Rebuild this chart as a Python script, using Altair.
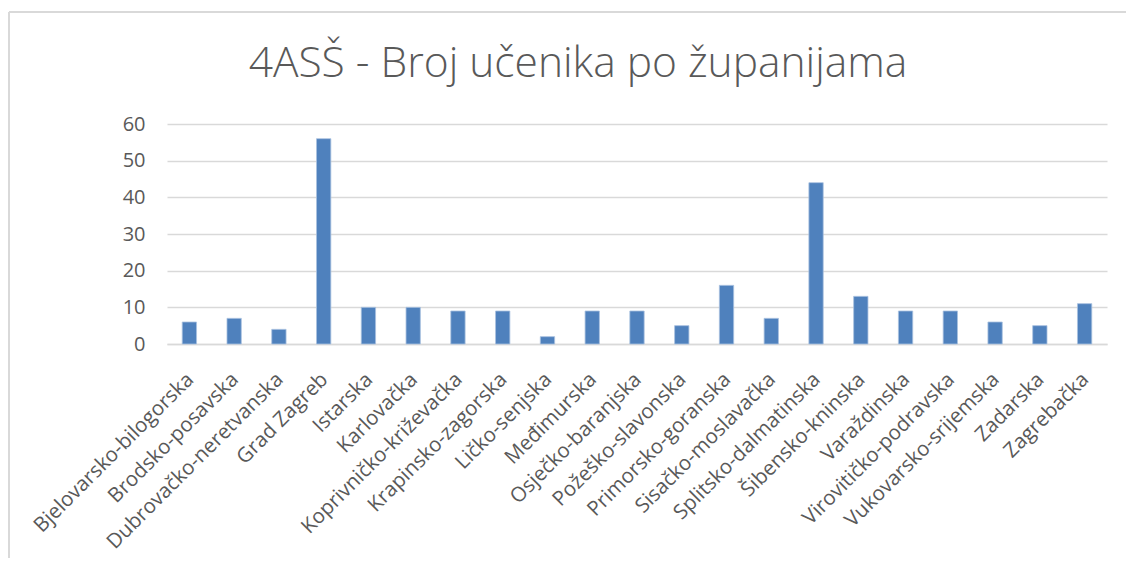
import altair as alt
import pandas as pd

zupanije = [
    "Bjelovarsko-bilogorska", "Brodsko-posavska", "Dubrovačko-neretvanska",
    "Grad Zagreb", "Istarska", "Karlovačka", "Koprivničko-križevačka",
    "Krapinsko-zagorska", "Ličko-senjska", "Međimurska", "Osječko-baranjska",
    "Požeško-slavonska", "Primorsko-goranska", "Sisačko-moslavačka",
    "Splitsko-dalmatinska", "Šibensko-kninska", "Varaždinska",
    "Virovitičko-podravska", "Vukovarsko-srijemska", "Zadarska", "Zagrebačka",
]
ucenici = [6, 7, 4, 56, 10, 10, 9, 9, 2, 9, 9, 5, 16, 7, 44, 13, 9, 9, 6, 5, 11]
y_ticks = [0, 10, 20, 30, 40, 50, 60]

df = pd.DataFrame({"zupanija": zupanije, "broj": ucenici})

FONT = "Open Sans"
GRAY = "#595959"

bars = alt.Chart(df).mark_bar(
    color="#4f81bd", stroke="#a9c1e0", strokeWidth=0.8
).encode(
    x=alt.X(
        "zupanija:N", sort=zupanije, title=None,
        scale=alt.Scale(paddingInner=0.68, paddingOuter=0.34),
        axis=alt.Axis(
            labelAngle=-45, labelAlign="right", labelBaseline="top",
            labelPadding=25, labelOffset=-6, ticks=False, domain=True,
            domainColor="#d9d9d9", domainWidth=1.5, labelFont=FONT,
            labelFontSize=20.5, labelColor=GRAY,
            grid=False, labelOverlap=False, labelLimit=0,
        ),
    ),
    y=alt.Y(
        "broj:Q", title=None,
        scale=alt.Scale(domain=[0, 60], nice=False),
        axis=alt.Axis(
            values=y_ticks, ticks=False, domain=False, gridColor="#d9d9d9",
            gridWidth=1.5, labelFont=FONT, labelFontSize=20, labelColor=GRAY,
            labelPadding=22,
        ),
    ),
)

frame_top = alt.Chart(df).mark_rule(color="#d9d9d9", strokeWidth=2).encode(
    x=alt.value(-158), x2=alt.value(970), y=alt.value(-112)
)
frame_left = alt.Chart(df).mark_rule(color="#d9d9d9", strokeWidth=2).encode(
    x=alt.value(-158), y=alt.value(-112), y2=alt.value(440)
)

chart = alt.layer(frame_top, frame_left, bars).properties(
    width=940,
    height=220,
    padding={"left": 159, "top": 116, "right": 19, "bottom": 214},
    autosize=alt.AutoSizeParams(type="none"),
    title=alt.TitleParams(
        "4ASŠ - Broj učenika po županijama",
        font=FONT, fontSize=42.5, fontWeight=300, color=GRAY,
        anchor="middle", dx=-59, offset=-108, baseline="alphabetic",
    ),
).configure_view(stroke=None)

chart.save("out.html", embed_options={"renderer": "svg", "actions": False})
